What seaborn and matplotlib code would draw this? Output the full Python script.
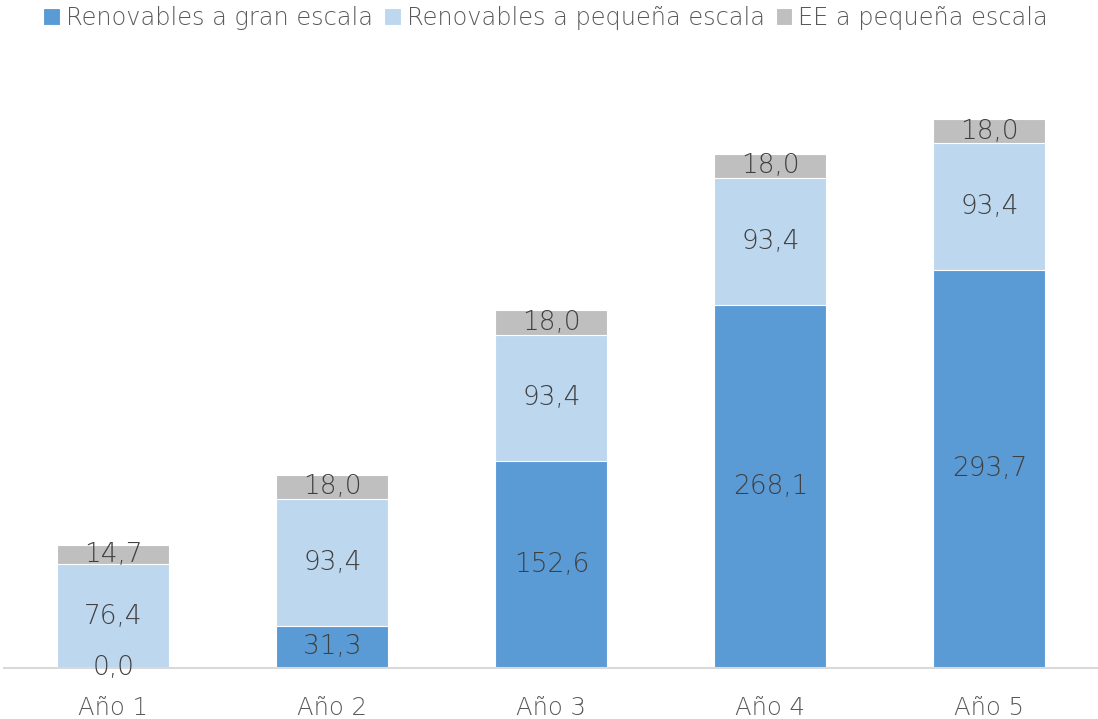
import matplotlib
matplotlib.use("Agg")
import matplotlib.pyplot as plt
import seaborn as sns
import pandas as pd
import numpy as np

categories = ["Año 1", "Año 2", "Año 3", "Año 4", "Año 5"]
gran = [0.0, 31.3, 152.6, 268.1, 293.7]
pequena = [76.4, 93.4, 93.4, 93.4, 93.4]
ee = [14.7, 18.0, 18.0, 18.0, 18.0]
series_names = ["Renovables a gran escala", "Renovables a pequeña escala", "EE a pequeña escala"]
colors = ["#5B9BD5", "#BDD7EE", "#BFBFBF"]

sns.set_theme(style="white")
plt.rcParams['font.family'] = ['DejaVu Sans']
plt.rcParams['font.weight'] = 'light'

fig = plt.figure(figsize=(10.98, 7.19), dpi=100)
ax = fig.add_axes([0.0035, 1 - 668 / 719, 1095 / 1098, 610 / 719])

df = pd.DataFrame({"cat": categories, "gran": gran, "peq": pequena, "ee": ee})
series = [df["gran"].values, df["peq"].values, df["ee"].values]
cum = np.cumsum(np.vstack(series), axis=0)

# draw cumulative stacks from the top down so each segment shows its own colour
for i in reversed(range(len(series))):
    sns.barplot(x=df["cat"], y=cum[i], color=colors[i], ax=ax, width=0.51,
                saturation=1, edgecolor="white", linewidth=0.8, label=series_names[i])

for i, vals in enumerate(series):
    base = cum[i] - vals
    for x, v, b in zip(range(len(categories)), vals, base):
        ax.text(x, b + v / 2, f"{v:.1f}".replace(".", ","), ha="center", va="center",
                fontsize=19, color="#404040")

ax.set_xlim(-0.5, len(categories) - 0.5)
ax.set_ylim(0, 450)
ax.set_xticks(range(len(categories)))
ax.set_xticklabels(categories, fontsize=17.5, color="#595959")
ax.tick_params(axis="x", length=0, pad=20)
ax.set_yticks([])
for s in ["top", "right", "left"]:
    ax.spines[s].set_visible(False)
ax.spines["bottom"].set_color("#D9D9D9")
ax.spines["bottom"].set_linewidth(1.5)
ax.set_xlabel("")
ax.set_ylabel("")

h, l = ax.get_legend_handles_labels()
order = [l.index(n) for n in series_names]
if ax.get_legend() is not None:
    ax.get_legend().remove()
fig.legend([h[k] for k in order], [l[k] for k in order], loc="upper center",
           bbox_to_anchor=(0.497, 1.022), ncol=3, frameon=False,
           fontsize=17.3, handlelength=0.7, handleheight=0.7, handletextpad=0.25,
           columnspacing=0.45, labelcolor="#595959")

fig.savefig("out.png", dpi=100)
